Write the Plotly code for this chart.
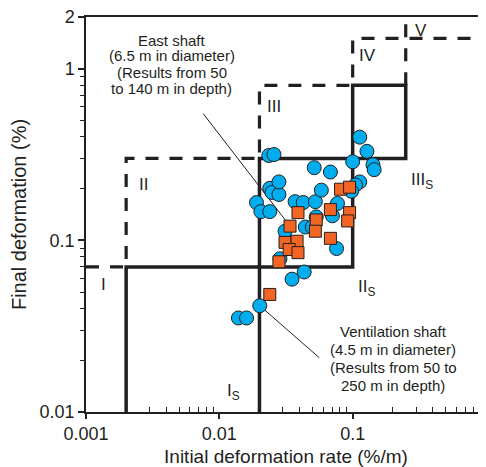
import numpy as np
import plotly.graph_objects as go

# ---- data ----
# circles (blue)
vent_rate = [0.0139, 0.0160, 0.0201, 0.0351, 0.0433, 0.0285, 0.0757, 0.0311, 0.0441, 0.0498,
             0.0533, 0.0705, 0.0190, 0.0205, 0.0239, 0.0239, 0.0248, 0.0280, 0.0280, 0.0235,
             0.0257, 0.0370, 0.0426, 0.0525, 0.0582, 0.0769, 0.0515, 0.0681, 0.100, 0.113,
             0.128, 0.142, 0.145, 0.113, 0.105, 0.098]
vent_def = [0.0353, 0.0353, 0.0416, 0.0594, 0.0654, 0.0781, 0.0896, 0.113, 0.1195, 0.1195,
            0.137, 0.139, 0.166, 0.147, 0.147, 0.201, 0.190, 0.185, 0.219, 0.312,
            0.316, 0.168, 0.166, 0.168, 0.196, 0.164, 0.265, 0.250, 0.287, 0.399,
            0.330, 0.276, 0.258, 0.219, 0.210, 0.193]
# squares (orange)
east_rate = [0.0239, 0.0280, 0.0311, 0.0383, 0.0334, 0.0389, 0.0339, 0.0389, 0.0533, 0.0525,
             0.0681, 0.0681, 0.0811, 0.0948, 0.0948, 0.0917]
east_def = [0.0484, 0.075, 0.0973, 0.0988, 0.0884, 0.0848, 0.121, 0.145, 0.1315, 0.113,
            0.151, 0.1027, 0.1985, 0.204, 0.145, 0.1297]

# class boundaries
solid_x = [0.002, 0.002, 0.1, 0.1, 0.25, 0.25, 0.02, 0.02]
solid_y = [0.01, 0.07, 0.07, 0.8, 0.8, 0.3, 0.3, 0.01]
dashed_x = [0.001, 0.002, 0.002, 0.02, 0.02, 0.1, 0.1, 1.0]
dashed_y = [0.07, 0.07, 0.3, 0.3, 0.8, 0.8, 1.5, 1.5]
dashed2_x = [0.25, 0.25]
dashed2_y = [0.8, 2.0]

# leader lines
east_leader_x = [0.00757, 0.0339]
east_leader_y = [0.547, 0.121]
vent_leader_x = [0.0201, 0.0562]
vent_leader_y = [0.0416, 0.0207]

# region labels
label_text = ["I", "II", "III", "IV", "V", "I<sub>S</sub>", "II<sub>S</sub>", "III<sub>S</sub>"]
label_x = [0.00135, 0.0027, 0.0257, 0.130, 0.327, 0.0128, 0.126, 0.33]
label_y = [0.0555, 0.212, 0.602, 1.195, 1.66, 0.0130, 0.0530, 0.222]

# annotation texts, one entry per line (x and y of each line)
east_lines = ["East shaft", "(6.5 m in diameter)", "(Results from 50", "to 140 m in depth)"]
east_line_x = 0.00441
east_line_y = [1.45, 1.19, 0.955, 0.767]
vent_lines = ["Ventilation shaft", "(4.5 m in diameter)", "(Results from 50 to", "250 m in depth)"]
vent_line_x = 0.201
vent_line_y = [0.0295, 0.0230, 0.0182, 0.0142]

x_ticks = [0.001, 0.01, 0.1, 1]
x_ticklabels = ["0.001", "0.01", "0.1", "1"]
y_ticks = [0.01, 0.1, 1, 2]
y_ticklabels = ["0.01", "0.1", "1", "2"]

INK = "#231f20"
FONT = "Liberation Sans, Arial, sans-serif"

fig = go.Figure()
fig.add_trace(go.Scatter(x=solid_x, y=solid_y, mode="lines",
                         line=dict(color=INK, width=3.5), hoverinfo="skip"))
fig.add_trace(go.Scatter(x=dashed_x, y=dashed_y, mode="lines",
                         line=dict(color=INK, width=3.2, dash="13px,11px"), hoverinfo="skip"))
fig.add_trace(go.Scatter(x=dashed2_x, y=dashed2_y, mode="lines",
                         line=dict(color=INK, width=3.2, dash="13px,11px"), hoverinfo="skip"))
fig.add_trace(go.Scatter(x=east_leader_x, y=east_leader_y, mode="lines",
                         line=dict(color=INK, width=1), hoverinfo="skip"))
fig.add_trace(go.Scatter(x=vent_leader_x, y=vent_leader_y, mode="lines",
                         line=dict(color=INK, width=1), hoverinfo="skip"))
fig.add_trace(go.Scatter(x=vent_rate, y=vent_def, mode="markers", name="Ventilation shaft",
                         marker=dict(symbol="circle", size=14, color="#00AEEF",
                                     line=dict(color=INK, width=1))))
fig.add_trace(go.Scatter(x=east_rate, y=east_def, mode="markers", name="East shaft",
                         marker=dict(symbol="square", size=12, color="#F26522",
                                     line=dict(color=INK, width=1))))

for t, lx, ly in zip(label_text, label_x, label_y):
    fig.add_annotation(x=np.log10(lx), y=np.log10(ly), text=t, showarrow=False,
                       font=dict(family=FONT, size=17, color=INK))

for t, ly in zip(east_lines, east_line_y):
    fig.add_annotation(x=np.log10(east_line_x), y=np.log10(ly), text=t, showarrow=False,
                       font=dict(family=FONT, size=15, color=INK))
for t, ly in zip(vent_lines, vent_line_y):
    fig.add_annotation(x=np.log10(vent_line_x), y=np.log10(ly), text=t, showarrow=False,
                       font=dict(family=FONT, size=15, color=INK))

def minor_vals(lo, hi):
    vals = []
    for e in range(lo, hi):
        for m in range(2, 10):
            vals.append(m * 10.0 ** e)
    return vals

# the page body adds an 8px margin, so the figure is shrunk by that amount
fig.update_layout(
    width=478, height=459,
    margin=dict(l=78, r=0, t=9, b=55),
    paper_bgcolor="white", plot_bgcolor="white",
    showlegend=False,
    font=dict(family=FONT, color=INK),
    xaxis=dict(type="log", range=[-3, 0], showgrid=False, zeroline=False, automargin=False,
               showline=True, mirror=True, linecolor=INK, linewidth=1.5,
               tickmode="array", tickvals=x_ticks, ticktext=x_ticklabels,
               ticklabeloverflow="allow",
               ticks="outside", ticklen=5, tickwidth=1.5, tickcolor=INK,
               tickfont=dict(family=FONT, size=18, color=INK),
               minor=dict(tickmode="array", tickvals=minor_vals(-3, 0), ticks="inside",
                          ticklen=5, tickwidth=1, tickcolor=INK, showgrid=False),
               title=dict(text="Initial deformation rate (%/m)", standoff=14,
                          font=dict(family=FONT, size=19, color=INK))),
    yaxis=dict(type="log", range=[-2, np.log10(2)], showgrid=False, zeroline=False, automargin=False,
               showline=True, mirror=True, linecolor=INK, linewidth=1.5,
               tickmode="array", tickvals=y_ticks, ticktext=y_ticklabels,
               ticklabeloverflow="allow",
               ticks="outside", ticklen=6, tickwidth=1.5, tickcolor=INK,
               tickfont=dict(family=FONT, size=18, color=INK),
               minor=dict(tickmode="array", tickvals=minor_vals(-2, 1), ticks="outside",
                          ticklen=4, tickwidth=1, tickcolor=INK, showgrid=False),
               title=dict(text="Final deformation (%)", standoff=8,
                          font=dict(family=FONT, size=20, color=INK))),
)

fig.write_html("out.html")
